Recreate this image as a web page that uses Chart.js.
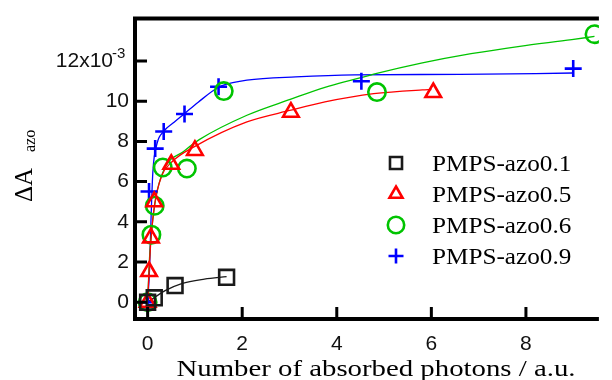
<!DOCTYPE html>
<html>
<head>
<meta charset="utf-8">
<script src="https://cdn.jsdelivr.net/npm/chart.js@4.4.0/dist/chart.umd.min.js"></script>
<style>
  html, body { margin: 0; padding: 0; background: #fff; }
</style>
</head>
<body>
<canvas id="grafico" width="612" height="380"></canvas>
<script>
// Séries medidas (x: fótons absorvidos, y: ΔA em unidades de 10^-3)
const nomes = ['PMPS-azo0.1', 'PMPS-azo0.5', 'PMPS-azo0.6', 'PMPS-azo0.9'];
const cores = ['#1a1a1a', '#ff0000', '#00c400', '#0000ff'];
const simbolos = ['rect', 'triangle', 'circle', 'cross'];

const x01 = [0, 0.14, 0.58, 1.67];
const y01 = [0, 0.22, 0.83, 1.24];
const x05 = [0, 0.03, 0.07, 0.14, 0.5, 1.0, 3.03, 6.04];
const y05 = [0, 1.53, 3.2, 5.0, 6.86, 7.55, 9.45, 10.43];
const x06 = [0, 0.08, 0.15, 0.32, 0.83, 1.61, 4.85, 9.45];
const y06 = [0, 3.36, 4.8, 6.7, 6.65, 10.5, 10.45, 13.33];
const x09 = [0, 0.03, 0.16, 0.34, 0.78, 1.5, 4.52, 9.0];
const y09 = [0, 5.51, 7.64, 8.49, 9.36, 10.72, 10.99, 11.62];

// Curvas de ajuste
const fx01 = [0, 0.38, 0.72, 1.2, 1.67];
const fy01 = [0, 0.59, 0.93, 1.15, 1.27];
const fx05 = [0, 0.03, 0.07, 0.15, 0.3, 0.5, 1.0, 2.1, 3.03, 3.75, 4.78, 5.81, 6.0];
const fy05 = [0, 1.5, 3.1, 4.9, 6.3, 6.95, 7.75, 8.97, 9.55, 9.96, 10.37, 10.56, 10.58];
const fx06 = [0, 0.04, 0.1, 0.2, 0.38, 0.76, 1.1, 2.1, 3.03, 3.75, 4.78, 5.81, 6.84, 7.87, 8.97, 9.45];
const fy06 = [0, 2.2, 3.9, 5.5, 6.75, 7.5, 8.1, 9.3, 10.1, 10.69, 11.34, 11.9, 12.36, 12.73, 13.06, 13.22];
const fx09 = [0, 0.04, 0.07, 0.11, 0.2, 0.34, 0.56, 0.78, 1.07, 1.5, 1.8, 2.1, 3.13, 4.37, 6.6, 9.0];
const fy09 = [0, 1.6, 4.0, 6.45, 7.9, 8.5, 8.95, 9.38, 9.95, 10.69, 10.92, 11.05, 11.21, 11.31, 11.33, 11.4];

const ticksX = [0, 2, 4, 6, 8];
const ticksY = [0, 2, 4, 6, 8, 10, 12];

const pontos = [[x01, y01], [x05, y05], [x06, y06], [x09, y09]];
const ajustes = [[fx01, fy01], [fx05, fy05], [fx06, fy06], [fx09, fy09]];
const raios = [10.5, 9, 8.7, 8.5];

const juntar = (xs, ys) => xs.map((v, i) => ({ x: v, y: ys[i] }));

const datasets = [];
pontos.forEach((p, i) => {
    datasets.push({
        label: nomes[i],
        data: juntar(p[0], p[1]),
        showLine: false,
        pointStyle: simbolos[i],
        pointRadius: raios[i],
        pointBorderWidth: 2.6,
        pointBorderColor: cores[i],
        pointBackgroundColor: 'rgba(0,0,0,0)',
        order: i
    });
});
ajustes.forEach((f, i) => {
    datasets.push({
        label: nomes[i] + ' ajuste',
        data: juntar(f[0], f[1]),
        showLine: true,
        borderColor: cores[i],
        borderWidth: 1.3,
        pointRadius: 0,
        cubicInterpolationMode: 'monotone',
        order: 10 + i
    });
});

// desenha um símbolo da legenda
function marcador(ctx, tipo, x, y, r) {
    ctx.beginPath();
    if (tipo === 'rect') {
        const s = r * Math.SQRT1_2;
        ctx.rect(x - s, y - s, 2 * s, 2 * s);
    } else if (tipo === 'triangle') {
        ctx.moveTo(x, y - r);
        ctx.lineTo(x + r * Math.sin(Math.PI * 2 / 3), y + r / 2);
        ctx.lineTo(x - r * Math.sin(Math.PI * 2 / 3), y + r / 2);
        ctx.closePath();
    } else if (tipo === 'circle') {
        ctx.arc(x, y, r, 0, Math.PI * 2);
    } else {
        ctx.moveTo(x - r, y); ctx.lineTo(x + r, y);
        ctx.moveTo(x, y - r); ctx.lineTo(x, y + r);
    }
    ctx.stroke();
}

const quadro = {
    id: 'quadro',
    afterDraw(chart) {
        const ctx = chart.ctx;
        const a = chart.chartArea;
        const sx = chart.scales.x, sy = chart.scales.y;
        ctx.save();
        ctx.strokeStyle = '#000';
        ctx.lineWidth = 4;
        ctx.beginPath();
        ctx.moveTo(a.left - 2, a.top); ctx.lineTo(a.right, a.top);
        ctx.moveTo(a.left, a.top - 2); ctx.lineTo(a.left, a.bottom + 2);
        ctx.moveTo(a.left - 2, a.bottom); ctx.lineTo(a.right, a.bottom);
        ctx.stroke();

        // marcas para dentro
        ctx.lineWidth = 3;
        ctx.beginPath();
        ticksY.forEach(v => {
            const p = sy.getPixelForValue(v);
            ctx.moveTo(a.left, p); ctx.lineTo(a.left + 12, p);
        });
        ticksX.forEach(v => {
            const p = sx.getPixelForValue(v);
            ctx.moveTo(p, a.bottom); ctx.lineTo(p, a.bottom - 12);
        });
        ctx.stroke();

        // rótulo 12x10^-3
        const p12 = sy.getPixelForValue(12);
        ctx.fillStyle = '#111';
        ctx.font = '21px "Liberation Sans", Arial, sans-serif';
        ctx.textAlign = 'right';
        ctx.textBaseline = 'middle';
        ctx.fillText('12x10', 113, p12);
        ctx.font = '15px "Liberation Sans", Arial, sans-serif';
        ctx.textAlign = 'left';
        ctx.textBaseline = 'alphabetic';
        ctx.fillText('-3', 112, p12 - 3);

        // título do eixo y
        ctx.save();
        ctx.translate(32, 202);
        ctx.rotate(-Math.PI / 2);
        ctx.fillStyle = '#000';
        ctx.font = '25px "Liberation Serif", "Times New Roman", serif';
        ctx.fillText('ΔA', 0, 0);
        ctx.font = '16px "Liberation Serif", "Times New Roman", serif';
        ctx.fillText('azo', 50, 3);
        ctx.restore();

        // título do eixo x
        ctx.save();
        ctx.translate(376, 376);
        ctx.scale(1.2, 1);
        ctx.fillStyle = '#000';
        ctx.textAlign = 'center';
        ctx.font = '24px "Liberation Serif", "Times New Roman", serif';
        ctx.fillText('Number of absorbed photons / a.u.', 0, 0);
        ctx.restore();

        // legenda
        const raiosLeg = [8.5, 7.5, 8.2, 7.5];
        nomes.forEach((n, i) => {
            const yy = 163 + i * 31;
            ctx.strokeStyle = cores[i];
            ctx.lineWidth = 2.6;
            marcador(ctx, simbolos[i], 396, yy, raiosLeg[i]);
            ctx.save();
            ctx.translate(432, yy + 8);
            ctx.scale(1.05, 1);
            ctx.fillStyle = '#000';
            ctx.textAlign = 'left';
            ctx.font = '24px "Liberation Serif", "Times New Roman", serif';
            ctx.fillText(n, 0, 0);
            ctx.restore();
        });
        ctx.restore();
    }
};

const ctx = document.getElementById('grafico').getContext('2d');
new Chart(ctx, {
    type: 'scatter',
    data: { datasets: datasets },
    options: {
        responsive: false,
        animation: false,
        layout: { padding: { top: 14, left: 0, right: 0, bottom: 0 } },
        plugins: { legend: { display: false }, tooltip: { enabled: false } },
        scales: {
            x: {
                type: 'linear',
                min: -0.267,
                max: 9.543,
                afterBuildTicks: s => { s.ticks = ticksX.map(v => ({ value: v })); },
                afterFit: s => { s.height = 61; },
                grid: { display: false, drawTicks: false },
                border: { display: false },
                ticks: {
                    padding: 13,
                    color: '#111',
                    font: { family: '"Liberation Sans", Arial, sans-serif', size: 21 },
                    maxRotation: 0
                }
            },
            y: {
                type: 'linear',
                min: -0.833,
                max: 14.106,
                afterBuildTicks: s => { s.ticks = ticksY.map(v => ({ value: v })); },
                afterFit: s => { s.width = 135; },
                grid: { display: false, drawTicks: false },
                border: { display: false },
                ticks: {
                    padding: 6,
                    color: '#111',
                    font: { family: '"Liberation Sans", Arial, sans-serif', size: 21 },
                    callback: v => (v === 12 ? '' : String(v))
                }
            }
        }
    },
    plugins: [quadro]
});
</script>
</body>
</html>
